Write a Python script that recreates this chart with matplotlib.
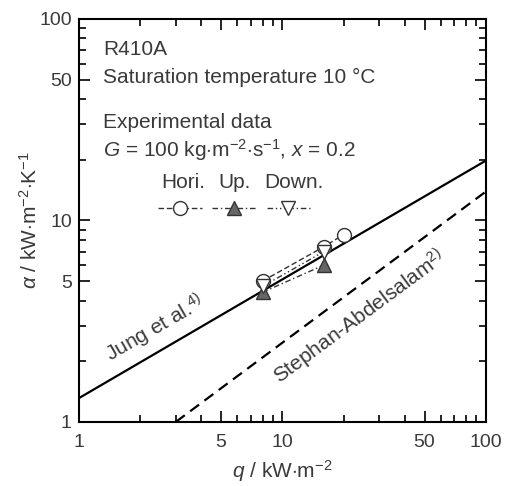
import matplotlib
matplotlib.use('Agg')
import matplotlib.pyplot as plt

plt.rcParams['font.family'] = ['Liberation Sans', 'DejaVu Sans']
plt.rcParams['mathtext.fontset'] = 'custom'
plt.rcParams['mathtext.rm'] = 'Liberation Sans'
plt.rcParams['mathtext.it'] = 'Liberation Sans:italic'

# experimental data (q in kW/m2, alpha in kW/m2K)
hori_q = [8, 16, 20]
hori_a = [5.0, 7.4, 8.5]
up_q = [8, 16]
up_a = [4.4, 6.0]
down_q = [8, 16]
down_a = [4.7, 7.0]

# correlations
jung_q = [1, 100]
jung_a = [1.31, 19.8]
sa_q = [3.0, 100]
sa_a = [1.0, 13.9]

txt = '#3a3a3a'
fs = 15
tfs = 14

fig = plt.figure(figsize=(5.05, 4.86), dpi=100)
ax = fig.add_axes([0.156, 0.132, 0.806, 0.829])

ax.plot(jung_q, jung_a, color='black', lw=1.6)
ax.plot(sa_q, sa_a, color='black', lw=1.6, ls=(0, (5, 3)))

l1, = ax.plot(hori_q, hori_a, color='#333333', lw=1.0, ls=(0, (4, 2)),
              marker='o', ms=10, mfc='white', mec='#333333', mew=1.0)
l2, = ax.plot(up_q, up_a, color='#333333', lw=1.0, ls=(0, (4, 2, 1, 2)),
              marker='^', ms=10, mfc='#666666', mec='#333333', mew=1.0)
l3, = ax.plot(down_q, down_a, color='#333333', lw=1.0, ls=(0, (4, 2, 1, 2, 1, 2)),
              marker='v', ms=10, mfc='white', mec='#333333', mew=1.0)

ax.set_xscale('log')
ax.set_yscale('log')
ax.set_xlim(1, 100)
ax.set_ylim(1, 100)

ticks = [1, 5, 10, 50, 100]
ax.set_xticks(ticks)
ax.set_xticklabels([str(t) for t in ticks])
ax.set_yticks(ticks)
ax.set_yticklabels([str(t) for t in ticks])
ax.xaxis.set_minor_formatter(matplotlib.ticker.NullFormatter())
ax.yaxis.set_minor_formatter(matplotlib.ticker.NullFormatter())
ax.tick_params(which='both', direction='in', top=True, right=True,
               labelsize=tfs, labelcolor=txt, width=1.2)
ax.tick_params(which='major', length=8, pad=5)
ax.tick_params(axis='x', which='major', pad=9)
ax.tick_params(which='minor', length=5)
for s in ax.spines.values():
    s.set_linewidth(1.5)

ax.set_xlabel(r'$q$ / kW$\cdot$m$^{-2}$', fontsize=fs, color=txt, labelpad=5)
ax.set_ylabel(r'$\alpha$ / kW$\cdot$m$^{-2}$$\cdot$K$^{-1}$', fontsize=fs, color=txt, labelpad=-1)

ax.text(0.059, 0.923, 'R410A', transform=ax.transAxes, fontsize=fs, color=txt, va='center')
ax.text(0.059, 0.856, 'Saturation temperature 10 °C', transform=ax.transAxes,
        fontsize=fs, color=txt, va='center')
ax.text(0.059, 0.744, 'Experimental data', transform=ax.transAxes, fontsize=fs,
        color=txt, va='center')
ax.text(0.059, 0.675, r'$G$ = 100 kg$\cdot$m$^{-2}$$\cdot$s$^{-1}$, $x$ = 0.2',
        transform=ax.transAxes, fontsize=fs, color=txt, va='center')

for x, lab in zip([0.256, 0.382, 0.528], ['Hori.', 'Up.', 'Down.']):
    ax.text(x, 0.593, lab, transform=ax.transAxes, fontsize=fs, color=txt,
            ha='center', va='center')
ax.legend([l1, l2, l3], ['', '', ''], ncol=3, loc='center',
          bbox_to_anchor=(0.382, 0.526), frameon=False, fontsize=fs,
          handlelength=2.1, handletextpad=0, columnspacing=0.5)

ax.text(0.187, 0.231, r'Jung et al.$^{4)}$', transform=ax.transAxes, fontsize=fs,
        color=txt, rotation=30, rotation_mode='anchor', ha='center', va='center')
ax.text(0.69, 0.261, r'Stephan-Abdelsalam$^{2)}$', transform=ax.transAxes, fontsize=fs,
        color=txt, rotation=36.5, rotation_mode='anchor', ha='center', va='center')

fig.savefig('out.png', dpi=100)
